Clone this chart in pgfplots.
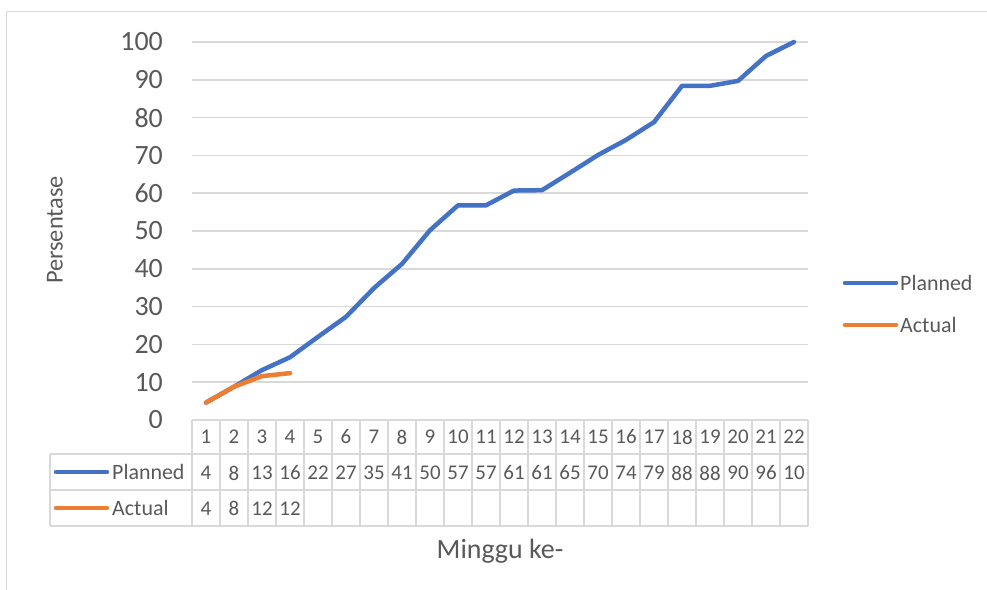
\documentclass[border=0pt]{standalone}
\usepackage{fontspec}
\setmainfont{Carlito}
\usepackage{pgfplots}
\pgfplotsset{compat=1.18}
\definecolor{cblue}{HTML}{4472C4}
\definecolor{corange}{HTML}{ED7D31}
\definecolor{cgrid}{HTML}{D9D9D9}
\definecolor{ctext}{HTML}{595959}
\begin{document}
\begin{tikzpicture}
\useasboundingbox (-192bp,-170bp) rectangle (795bp,420bp);
% outer frame (cropped)
\draw[cgrid, line width=1bp] (-185bp,-170bp) -- (-185bp,408.5bp) -- (795bp,408.5bp);
\begin{axis}[at={(0,0)}, anchor=south west, scale only axis,
  width=616bp, height=378bp,
  xmin=0.5, xmax=22.5, ymin=0, ymax=100,
  xtick=\empty, ytick={0,10,...,100},
  ymajorgrids, grid style={cgrid, line width=1.5bp},
  axis line style={draw=none}, major tick length=0pt,
  yticklabel style={font=\fontsize{28}{28}\selectfont, text=ctext, inner sep=0pt, xshift=-29bp},
  /pgf/number format/assume math mode=true,
  clip=false]
\addplot[cblue, line width=4.5bp, line cap=round, line join=round] coordinates {
 (1,4.6) (2,8.8) (3,13.2) (4,16.6) (5,22.0) (6,27.3) (7,34.9) (8,41.3) (9,50.2) (10,56.8) (11,56.8)
 (12,60.7) (13,60.8) (14,65.4) (15,70.1) (16,74.1) (17,78.8) (18,88.4) (19,88.4) (20,89.7) (21,96.3) (22,100)};
\addplot[corange, line width=4.5bp, line cap=round, line join=round] coordinates {
 (1,4.6) (2,8.8) (3,11.6) (4,12.4)};
\end{axis}
% data table
\begin{scope}[cgrid, line width=1.5bp]
\draw (0bp,0bp) -- (616bp,0bp);
\draw (-142bp,-34bp) -- (616bp,-34bp);
\draw (-142bp,-70bp) -- (616bp,-70bp);
\draw (-142bp,-106bp) -- (616bp,-106bp);
\draw (-142bp,-34bp) -- (-142bp,-106bp);
\foreach \k in {0,...,22} { \draw ({28*\k*1bp},0bp) -- ({28*\k*1bp},-106bp); }
\end{scope}
\begin{scope}[every node/.style={font=\fontsize{21}{21}\selectfont, text=ctext, inner sep=0pt}]
\foreach \v [count=\i from 0] in {1,2,3,4,5,6,7,8,9,10,11,12,13,14,15,16,17,18,19,20,21,22}
  \node at ({(28*\i+14)*1bp},-17bp) {\v};
\foreach \v [count=\i from 0] in {4,8,13,16,22,27,35,41,50,57,57,61,61,65,70,74,79,88,88,90,96,10}
  \node at ({(28*\i+14)*1bp},-53bp) {\v};
\foreach \v [count=\i from 0] in {4,8,12,12}
  \node at ({(28*\i+14)*1bp},-88.5bp) {\v};
\draw[cblue, line width=4.5bp, line cap=round] (-136bp,-52bp) -- (-85bp,-52bp);
\draw[corange, line width=4.5bp, line cap=round] (-136bp,-88bp) -- (-85bp,-88bp);
\node[anchor=west, font=\fontsize{22}{22}\selectfont] at (-80bp,-52bp) {Planned};
\node[anchor=west, font=\fontsize{22}{22}\selectfont] at (-80bp,-88bp) {Actual};
\end{scope}
% legend
\draw[cblue, line width=4.5bp, line cap=round] (653bp,137bp) -- (704bp,137bp);
\draw[corange, line width=4.5bp, line cap=round] (653bp,95bp) -- (704bp,95bp);
\node[anchor=west, inner sep=0pt, text=ctext, font=\fontsize{22}{22}\selectfont] at (708bp,137bp) {Planned};
\node[anchor=west, inner sep=0pt, text=ctext, font=\fontsize{22}{22}\selectfont] at (708bp,95bp) {Actual};
% axis titles
\node[anchor=base, inner sep=0pt, text=ctext, font=\fontsize{28}{28}\selectfont] at (308bp,-138bp) {Minggu ke-};
\node[rotate=90, inner sep=0pt, text=ctext, font=\fontsize{24.5}{24.5}\selectfont] at (-137bp,190bp) {Persentase};
\end{tikzpicture}
\end{document}
